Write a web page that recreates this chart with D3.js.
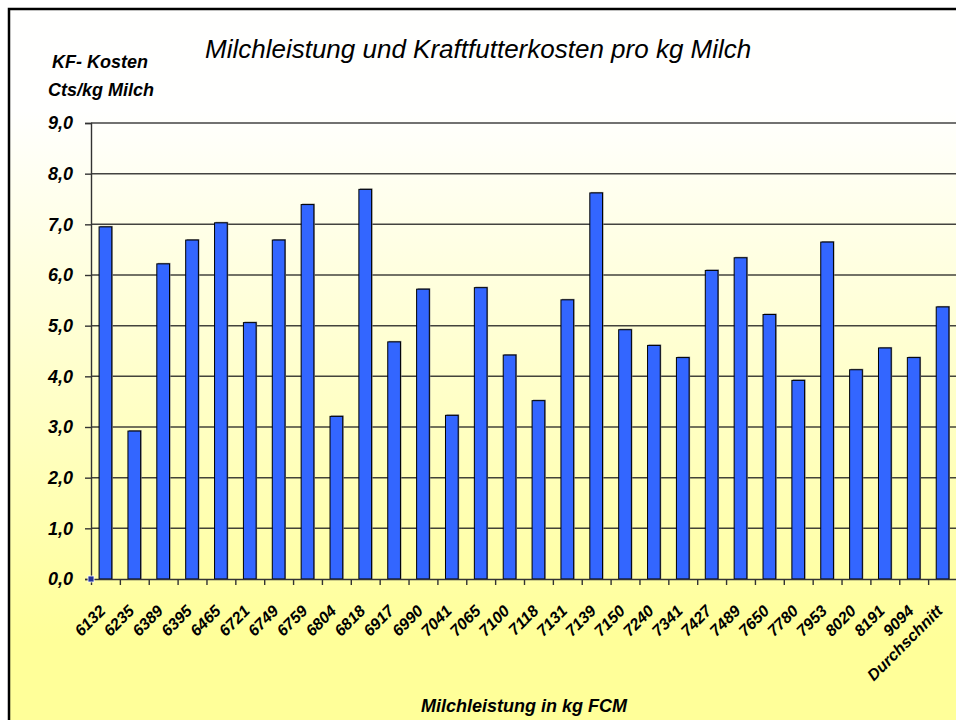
<!DOCTYPE html>
<meta charset="utf-8">
<title>Milchleistung und Kraftfutterkosten</title>
<style>
  body { margin: 0; background: #fff; }
  text { font-family: "Liberation Sans", Arial, sans-serif; }
</style>
<body>
<script src="https://d3js.org/d3.v7.min.js"></script>
<script>

let labels = ["6132", "6235", "6389", "6395", "6465", "6721", "6749", "6759", "6804", "6818",
  "6917", "6990", "7041", "7065", "7100", "7118", "7131", "7139", "7150", "7240",
  "7341", "7427", "7489", "7650", "7780", "7953", "8020", "8191", "9094", "Durchschnitt"];
let values = [6.95, 2.92, 6.22, 6.69, 7.03, 5.06, 6.69, 7.39, 3.21, 7.69,
  4.68, 5.72, 3.23, 5.75, 4.42, 3.52, 5.51, 7.62, 4.92, 4.61,
  4.37, 6.09, 6.34, 5.22, 3.92, 6.65, 4.13, 4.56, 4.37, 5.37];
let yTicks = d3.range(0, 10);

let width = 956, height = 720;
let plot = { left: 91, right: 957, top: 123, bottom: 579 };

let svg = d3.select('body').append('svg')
    .attr('width', width)
    .attr('height', height);

let grad = svg.append('defs').append('linearGradient')
    .attr('id', 'bg')
    .attr('gradientUnits', 'userSpaceOnUse')
    .attr('x1', 0).attr('y1', 110).attr('x2', 0).attr('y2', 640);
grad.append('stop').attr('offset', 0).attr('stop-color', '#fffffe');
grad.append('stop').attr('offset', 1).attr('stop-color', '#ffff99');

// frame
svg.append('rect')
    .attr('x', 9).attr('y', 9)
    .attr('width', width).attr('height', height)
    .attr('fill', 'url(#bg)')
    .attr('stroke', '#000')
    .attr('stroke-width', 2.5);

let x = d3.scaleBand()
    .domain(labels)
    .range([plot.left, plot.right])
    .paddingInner(0.56)
    .paddingOuter(0.28);
let y = d3.scaleLinear().domain([0, 9]).range([plot.bottom, plot.top]);
let xEdge = d3.scaleLinear().domain([0, labels.length]).range([plot.left, plot.right]);

// grid
svg.append('g')
    .selectAll('line')
    .data(yTicks.slice(1))
    .enter().append('line')
        .attr('x1', plot.left).attr('x2', plot.right)
        .attr('y1', d => y(d)).attr('y2', d => y(d))
        .attr('stroke', '#222')
        .attr('stroke-opacity', 0.85)
        .attr('stroke-width', 1.5);

// bars: grey shadow, then blue
let bars = svg.append('g');
bars.selectAll('.shadow')
    .data(values)
    .enter().append('rect')
        .attr('class', 'shadow')
        .attr('x', (d, i) => x(labels[i]) + 1)
        .attr('y', d => y(d) - 1)
        .attr('width', x.bandwidth())
        .attr('height', d => y(0) - y(d) + 1)
        .attr('fill', '#888');
bars.selectAll('.bar')
    .data(values)
    .enter().append('rect')
        .attr('class', 'bar')
        .attr('x', (d, i) => x(labels[i]))
        .attr('y', d => y(d))
        .attr('width', x.bandwidth())
        .attr('height', d => y(0) - y(d))
        .attr('fill', '#3366ff')
        .attr('stroke', '#000')
        .attr('stroke-width', 1);

// y axis
let yAxis = svg.append('g')
    .attr('transform', `translate(${plot.left},0)`)
    .call(d3.axisLeft(y).tickValues(yTicks).tickSize(6).tickPadding(12)
        .tickFormat(d => d3.format('.1f')(d).replace('.', ',')));
yAxis.select('.domain').attr('stroke', '#333').attr('stroke-width', 1.4);
yAxis.selectAll('.tick line').attr('stroke', '#333').attr('stroke-width', 1.4);
yAxis.selectAll('.tick text')
    .style('font-size', '18px')
    .style('font-weight', 'bold')
    .style('font-style', 'italic')
    .attr('fill', '#000');

// x axis (ticks between categories)
let xAxis = svg.append('g')
    .attr('transform', `translate(0,${plot.bottom})`)
    .call(d3.axisBottom(xEdge).tickValues(d3.range(0, labels.length + 1))
        .tickSize(6).tickSizeOuter(0).tickFormat(''));
xAxis.select('.domain').attr('stroke', '#333').attr('stroke-width', 1.4);
xAxis.selectAll('.tick line').attr('stroke', '#333').attr('stroke-width', 1.4);

svg.append('g')
    .selectAll('text')
    .data(labels)
    .enter().append('text')
        .attr('transform', d => `translate(${x(d) + x.bandwidth() / 2 + 1},${plot.bottom + 33}) rotate(-45)`)
        .attr('text-anchor', 'end')
        .style('font-size', '16px')
        .style('font-weight', 'bold')
        .style('font-style', 'italic')
        .text(d => d);

// origin marker
svg.append('rect')
    .attr('x', plot.left - 3).attr('y', plot.bottom - 3)
    .attr('width', 6).attr('height', 6)
    .attr('fill', '#223399')
    .attr('stroke', '#fff').attr('stroke-width', 0.8);

// titles
svg.append('text')
    .attr('x', 205).attr('y', 58)
    .style('font-size', '26px')
    .style('font-style', 'italic')
    .text('Milchleistung und Kraftfutterkosten pro kg Milch');

svg.append('text')
    .attr('x', 100).attr('y', 68)
    .attr('text-anchor', 'middle')
    .style('font-size', '18px')
    .style('font-weight', 'bold')
    .style('font-style', 'italic')
    .text('KF- Kosten');
svg.append('text')
    .attr('x', 101).attr('y', 96)
    .attr('text-anchor', 'middle')
    .style('font-size', '18px')
    .style('font-weight', 'bold')
    .style('font-style', 'italic')
    .text('Cts/kg Milch');

svg.append('text')
    .attr('x', 524).attr('y', 712)
    .attr('text-anchor', 'middle')
    .style('font-size', '18px')
    .style('font-weight', 'bold')
    .style('font-style', 'italic')
    .text('Milchleistung in kg FCM');

</script>
</body>
